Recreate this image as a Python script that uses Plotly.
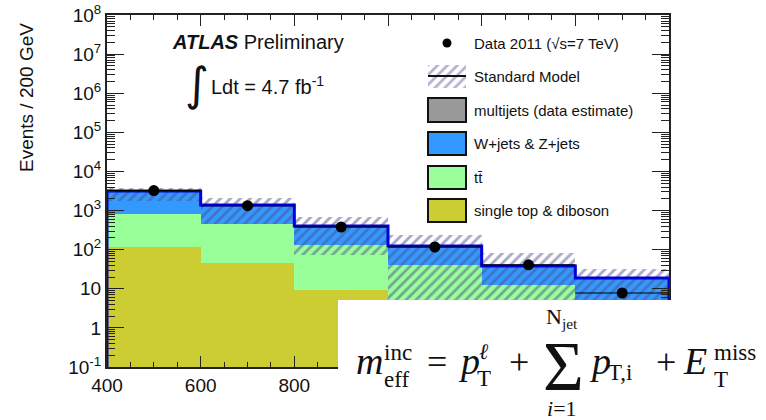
import numpy as np
import plotly.graph_objects as go

# ---------------- data ----------------
bin_edges = [400, 600, 800, 1000, 1200, 1400, 1600]
data_counts = [3240, 1330, 380, 117, 41, 7.8]
single_top_diboson = [117, 46, 9.4, 3.0, 1.0, 0.4]
ttbar = [703, 414, 122.6, 38, 11.6, 3.6]
wz_jets = [2325, 914, 271, 82.4, 25.2, 14.9]
multijets = [15, 6, 2, 0.6, 0.2, 0.1]
sm_band_low = [1760, 460, 72, 5, 2, 1]
sm_band_high = [3800, 2100, 690, 240, 83, 33]
ytick_vals = [0.1, 1, 10, 1e2, 1e3, 1e4, 1e5, 1e6, 1e7, 1e8]
ytick_text = ["10<sup>-1</sup>", "1", "10", "10<sup>2</sup>", "10<sup>3</sup>",
              "10<sup>4</sup>", "10<sup>5</sup>", "10<sup>6</sup>", "10<sup>7</sup>",
              "10<sup>8</sup>"]
xtick_vals = [400, 600, 800, 1000, 1200, 1400, 1600]
legend_labels = ["Data 2011 (\u221as=7 TeV)", "Standard Model", "multijets (data estimate)",
                 "W+jets & Z+jets", "tt\u0304", "single top & diboson"]

# ---------------- derived ----------------
edges = np.array(bin_edges, dtype=float)
centers = (edges[:-1] + edges[1:]) / 2
widths = edges[1:] - edges[:-1]
st = np.array(single_top_diboson)
c_tt = st + np.array(ttbar)
c_wz = c_tt + np.array(wz_jets)
total = c_wz + np.array(multijets)
lo = np.array(sm_band_low)
hi = np.array(sm_band_high)

C_OLIVE = "#cccc33"
C_GREEN = "#99ff99"
C_BLUE = "#3399ff"
C_GRAY = "#999999"
C_LINE = "#0000dd"
C_HATCH = "#4e4e8c"
SANS = "Liberation Sans, Arial, sans-serif"
SERIF = "Liberation Serif, Times New Roman, serif"

W, H = 766, 420
L, R, T, B = 107, 669, 15, 367


def fx(x):
    return (x - L) / (R - L)


def fy(y):
    return (B - y) / (B - T)


fig = go.Figure()

for vals, col, name in [(total, C_GRAY, "multijets"), (c_wz, C_BLUE, "W+jets & Z+jets"),
                        (c_tt, C_GREEN, "ttbar"), (st, C_OLIVE, "single top & diboson")]:
    fig.add_trace(go.Bar(x=centers, y=vals, width=widths, marker=dict(color=col, line_width=0),
                         name=name, showlegend=False))

# SM uncertainty band (hatched)
fig.add_trace(go.Bar(x=centers, y=hi - lo, base=lo, width=widths,
                     marker=dict(color="rgba(0,0,0,0)", line_width=0,
                                 pattern=dict(shape="/", fgcolor=C_HATCH, bgcolor="rgba(0,0,0,0)",
                                              size=7, solidity=0.4, fillmode="overlay")),
                     showlegend=False))

# SM total outline
xs, ys = [edges[0]], [0.05]
for i in range(len(centers)):
    xs += [edges[i], edges[i + 1]]
    ys += [total[i], total[i]]
xs += [edges[-1]]
ys += [0.05]
fig.add_trace(go.Scatter(x=xs, y=ys, mode="lines", line=dict(color=C_LINE, width=3),
                         showlegend=False))

# data
fig.add_trace(go.Scatter(x=centers, y=data_counts, mode="markers",
                         marker=dict(color="black", size=11),
                         error_x=dict(type="data", array=widths / 2, color="black",
                                      thickness=1.2, width=0),
                         showlegend=False))

# legend hatch swatch on its own hidden axes
fig.add_trace(go.Bar(x=[0], y=[1], width=[1], xaxis="x2", yaxis="y2",
                     marker=dict(color="rgba(0,0,0,0)", line_width=0,
                                 pattern=dict(shape="/", fgcolor="#6a6aa6", bgcolor="rgba(0,0,0,0)",
                                              size=7, solidity=0.4, fillmode="overlay")),
                     showlegend=False))

axis_common = dict(showline=True, linecolor="#222", linewidth=2, mirror="allticks",
                   ticks="inside", tickcolor="#222", showgrid=False, zeroline=False,
                   automargin=False, tickfont=dict(family=SANS, size=19, color="#111"))

fig.update_layout(
    width=W, height=H, margin=dict(l=L, r=W - R, t=T, b=H - B, pad=0, autoexpand=False),
    paper_bgcolor="white", plot_bgcolor="white", barmode="overlay", bargap=0,
    xaxis=dict(range=[400, 1600], tickvals=xtick_vals, ticklen=11, tickwidth=1,
               minor=dict(dtick=50, tick0=400, ticks="inside", ticklen=5, tickcolor="#222",
                          showgrid=False), **axis_common),
    yaxis=dict(type="log", range=[-1, 8], tickvals=ytick_vals, ticktext=ytick_text,
               ticklen=17, tickwidth=1,
               minor=dict(dtick="D1", ticks="inside", ticklen=8, tickcolor="#222",
                          showgrid=False), **axis_common),
    xaxis2=dict(domain=[fx(428), fx(466)], range=[-0.5, 0.5], visible=False, anchor="y2"),
    yaxis2=dict(domain=[fy(88), fy(65)], range=[0, 1], visible=False, anchor="x2"),
)

shapes = []
# white box overlay for formula
shapes.append(dict(type="rect", xref="paper", yref="paper", x0=fx(338), x1=fx(780),
                   y0=fy(300), y1=fy(440), fillcolor="white", line_width=0, layer="above"))
# legend swatches
box_rows = [(98, 122, C_GRAY), (132, 155, C_BLUE), (166, 189, C_GREEN), (199, 222, C_OLIVE)]
for y0, y1, col in box_rows:
    shapes.append(dict(type="rect", xref="paper", yref="paper", x0=fx(428), x1=fx(466),
                       y0=fy(y1), y1=fy(y0), fillcolor=col, line=dict(color="#111", width=2),
                       layer="above"))
shapes.append(dict(type="line", xref="paper", yref="paper", x0=fx(428), x1=fx(466),
                   y0=fy(76), y1=fy(76), line=dict(color="#111", width=2), layer="above"))
shapes.append(dict(type="circle", xref="paper", yref="paper", x0=fx(442.5), x1=fx(451.5),
                   y0=fy(47.5), y1=fy(38.5), fillcolor="black", line_width=0, layer="above"))
fig.update_layout(shapes=shapes)

ann = []


def add_text(text, x, y, size, family=SANS, xanchor="left", yanchor="middle", angle=0):
    ann.append(dict(text=text, x=fx(x), y=fy(y), xref="paper", yref="paper", showarrow=False,
                    xanchor=xanchor, yanchor=yanchor, textangle=angle, borderpad=0,
                    font=dict(family=family, size=size, color="#111")))


# axis title
add_text("Events / 200 GeV", 27, 97, 19, xanchor="center", angle=-90)
# ATLAS label
add_text("<b><i>ATLAS</i></b> Preliminary", 171, 42, 20)
add_text("\u222b", 184, 84, 46, family="DejaVu Sans")
add_text("Ldt = 4.7 fb<sup>-1</sup>", 210, 86, 20)
# legend texts
for lab, yy in zip(legend_labels, [43, 76, 110, 143, 177, 210]):
    add_text(lab, 473, yy, 15)


# formula pieces (baseline positions converted to box centres)
def ftxt(text, x, baseline, size, xanchor="left", family=SERIF):
    add_text(text, x, baseline - 0.34 * size - 3, size, family=family, xanchor=xanchor)


ftxt("<i>m</i>", 355, 377, 38)
ftxt("inc", 383, 363, 23)
ftxt("eff", 383, 390, 23)
ftxt("=", 426, 377, 36)
ftxt("<i>p</i>", 457, 377, 38)
ftxt("<i>\u2113</i>", 478, 362, 22)
ftxt("T", 476, 389, 23)
ftxt("+", 508, 377, 36)
ftxt("\u03a3", 563, 393, 70, xanchor="center")
ftxt("N<sub>jet</sub>", 562, 328, 22, xanchor="center")
ftxt("<i>i</i>=1", 562, 419, 22, xanchor="center")
ftxt("<i>p</i>", 588, 377, 38)
ftxt("T,i", 607, 383, 23)
ftxt("+", 655, 377, 36)
ftxt("<i>E</i>", 682, 377, 38)
ftxt("miss", 713, 363, 23)
ftxt("T", 713, 390, 23)

fig.update_layout(annotations=ann)

fig.write_html("out.html", post_script="document.body.style.margin='0';",
               config={"displayModeBar": False})
